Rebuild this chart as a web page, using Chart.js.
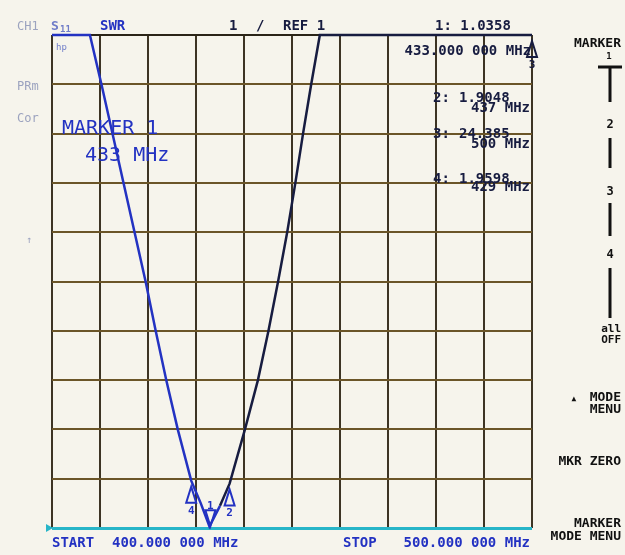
<!DOCTYPE html>
<html>
<head>
<meta charset="utf-8">
<script src="https://cdn.jsdelivr.net/npm/chart.js@4.4.1/dist/chart.umd.min.js"></script>
<style>
  html, body { margin: 0; padding: 0; background: #f6f4ec; }
  #wrap { width: 625px; height: 555px; position: relative; }
</style>
</head>
<body>
<div id="wrap"><canvas id="swrChart"></canvas></div>
<script>
//Sweep (MHz)
const startFreq = 400;
const stopFreq = 500;
const freqDiv = 10;

//SWR scale: 1 / div, REF 1 on the bottom line
const refValue = 1;
const scaleDiv = 1;
const topValue = 11;

//Trace, off-scale parts sit on the top line
const traceFreq = [400, 407.9, 410.3, 412.6, 414.9, 417.2, 419.5, 421.6, 423.8, 426.2, 429, 431, 432.8, 435, 437, 440.2, 442.9, 445.1, 447.1, 449, 450.7, 452.3, 454, 455.8, 500];
const traceSwr  = [11, 11, 10, 9, 8, 7, 6, 5, 4, 3, 1.96, 1.5, 1.03, 1.45, 1.9, 3, 4, 5, 6, 7, 8, 9, 10, 11, 11];

//Markers
const markerNum  = [1, 2, 3, 4];
const markerFreq = [433, 437, 500, 429];
const markerSwr  = [1.0358, 1.9048, 24.385, 1.9598];

const BLUE = '#2332c2';
const DARK = '#171c40';
const GREY = '#9ca3bf';
const KEY = '#111111';
const MONO = '"DejaVu Sans Mono", monospace';

var tracePoints = [];
for (var i = 0; i < traceFreq.length; i++) {
    tracePoints.push({x: traceFreq[i], y: traceSwr[i]});
}

function txt(ctx, s, x, y, size, color, weight, align) {
    ctx.font = (weight || 'bold') + ' ' + size + 'px ' + MONO;
    ctx.fillStyle = color;
    ctx.textAlign = align || 'left';
    ctx.textBaseline = 'alphabetic';
    ctx.fillText(s, x, y);
}

function key(ctx, s, y, size) {
    txt(ctx, s, 621, y, size || 13, KEY, 'bold', 'right');
}

function vbar(ctx, x, y0, y1) {
    ctx.beginPath();
    ctx.moveTo(x, y0);
    ctx.lineTo(x, y1);
    ctx.stroke();
}

//Markers, readout and soft keys
const screenPlugin = {
    id: 'screen',
    afterDatasetsDraw(chart) {
        const ctx = chart.ctx;
        const xs = chart.scales.x;
        const ys = chart.scales.y;
        ctx.save();
        ctx.lineWidth = 2;
        for (var i = 0; i < markerNum.length; i++) {
            const px = xs.getPixelForValue(markerFreq[i]);
            const py = ys.getPixelForValue(Math.min(markerSwr[i], topValue));
            const col = markerSwr[i] > topValue ? DARK : BLUE;
            const flip = py > ys.bottom - 20;
            const d = flip ? -1 : 1;
            const apex = flip ? py : py + 6;
            ctx.strokeStyle = col;
            ctx.beginPath();
            ctx.moveTo(px, apex);
            ctx.lineTo(px - 5, apex + d * 16);
            ctx.lineTo(px + 5, apex + d * 16);
            ctx.closePath();
            ctx.stroke();
            txt(ctx, String(markerNum[i]), px, flip ? apex - 17 : apex + 27, 11, col, 'bold', 'center');
        }
        //reference line pointer
        ctx.fillStyle = '#27b5c8';
        ctx.beginPath();
        ctx.moveTo(xs.left - 6, ys.bottom - 4);
        ctx.lineTo(xs.left - 6, ys.bottom + 4);
        ctx.lineTo(xs.left + 1, ys.bottom);
        ctx.closePath();
        ctx.fill();
        ctx.restore();
    },
    afterDraw(chart) {
        const ctx = chart.ctx;
        ctx.save();
        //top line
        txt(ctx, 'CH1', 17, 30, 12, GREY, 'normal');
        txt(ctx, 'S', 51, 30, 13, '#6f7cc8', 'bold');
        txt(ctx, '11', 60, 32, 9, '#6f7cc8', 'bold');
        txt(ctx, 'hp', 56, 50, 9, '#6f7cc8', 'normal');
        txt(ctx, 'SWR', 100, 30, 14, BLUE);
        txt(ctx, String(scaleDiv), 229, 30, 14, DARK);
        txt(ctx, '/', 256, 30, 14, DARK);
        txt(ctx, 'REF ' + refValue, 283, 30, 14, DARK);
        txt(ctx, 'PRm', 17, 90, 12, GREY, 'normal');
        txt(ctx, 'Cor', 17, 122, 12, GREY, 'normal');
        txt(ctx, '\u2191', 29, 243, 10, GREY, 'normal', 'center');

        //marker readout
        txt(ctx, markerNum[0] + ': ' + markerSwr[0].toPrecision(5), 435, 30, 14, DARK);
        txt(ctx, markerFreq[0].toFixed(3) + ' 000 MHz', 531, 55, 14, DARK, 'bold', 'right');
        const rowVal = [102, 138, 183];
        const rowFreq = [112, 148, 191];
        for (var i = 1; i < markerNum.length; i++) {
            txt(ctx, markerNum[i] + ':', 433, rowVal[i - 1], 14, DARK);
            txt(ctx, markerSwr[i].toPrecision(5), 459, rowVal[i - 1], 14, DARK);
            txt(ctx, markerFreq[i] + ' MHz', 530, rowFreq[i - 1], 14, DARK, 'bold', 'right');
        }

        //active marker
        txt(ctx, 'MARKER ' + markerNum[0], 62, 134, 20, BLUE, 'normal');
        txt(ctx, markerFreq[0] + ' MHz', 85, 161, 20, BLUE, 'normal');

        //sweep
        txt(ctx, 'START', 52, 547, 14, BLUE);
        txt(ctx, startFreq.toFixed(3) + ' 000 MHz', 112, 547, 14, BLUE);
        txt(ctx, 'STOP', 343, 547, 14, BLUE);
        txt(ctx, stopFreq.toFixed(3) + ' 000 MHz', 530, 547, 14, BLUE, 'bold', 'right');

        //soft keys
        ctx.strokeStyle = KEY;
        ctx.lineWidth = 3;
        key(ctx, 'MARKER', 47);
        txt(ctx, '1', 609, 59, 9, KEY, 'bold', 'center');
        ctx.beginPath();
        ctx.moveTo(598, 67);
        ctx.lineTo(622, 67);
        ctx.stroke();
        vbar(ctx, 610, 67, 102);
        txt(ctx, '2', 610, 128, 12, KEY, 'bold', 'center');
        vbar(ctx, 610, 138, 168);
        txt(ctx, '3', 610, 195, 12, KEY, 'bold', 'center');
        vbar(ctx, 610, 203, 236);
        txt(ctx, '4', 610, 258, 12, KEY, 'bold', 'center');
        vbar(ctx, 610, 268, 318);
        key(ctx, 'all', 332, 11);
        key(ctx, 'OFF', 343, 11);
        txt(ctx, '\u25B2', 574, 401, 8, KEY, 'bold', 'center');
        key(ctx, 'MODE', 401);
        key(ctx, 'MENU', 413);
        key(ctx, 'MKR ZERO', 465);
        key(ctx, 'MARKER', 527);
        key(ctx, 'MODE MENU', 540);
        ctx.restore();
    }
};

const config = {
    type: 'line',
    data: {
        datasets: [{
            data: tracePoints,
            borderWidth: 2.5,
            borderColor: BLUE,
            segment: {
                borderColor: ctx => ctx.p0.parsed.x < markerFreq[0] ? BLUE : DARK
            },
            pointRadius: 0,
            tension: 0,
            clip: 4
        }]
    },
    options: {
        responsive: true,
        maintainAspectRatio: false,
        animation: false,
        layout: { padding: { left: 52, right: 93, top: 35, bottom: 27 } },
        plugins: {
            legend: { display: false },
            tooltip: { enabled: false }
        },
        scales: {
            x: {
                type: 'linear',
                min: startFreq,
                max: stopFreq,
                ticks: { display: false, stepSize: freqDiv },
                border: { display: false },
                grid: { color: '#3d3424', lineWidth: 2, drawTicks: false }
            },
            y: {
                type: 'linear',
                min: refValue,
                max: topValue,
                ticks: { display: false, stepSize: scaleDiv },
                border: { display: false },
                grid: {
                    drawTicks: false,
                    color: ctx => ctx.tick.value === refValue ? '#27b5c8' : (ctx.tick.value === topValue ? '#2a2418' : '#6b5528'),
                    lineWidth: ctx => ctx.tick.value === refValue ? 3 : 2
                }
            }
        }
    },
    plugins: [screenPlugin]
};

//Create SWR chart
var chart = new Chart(document.getElementById('swrChart'), config);
</script>
</body>
</html>
